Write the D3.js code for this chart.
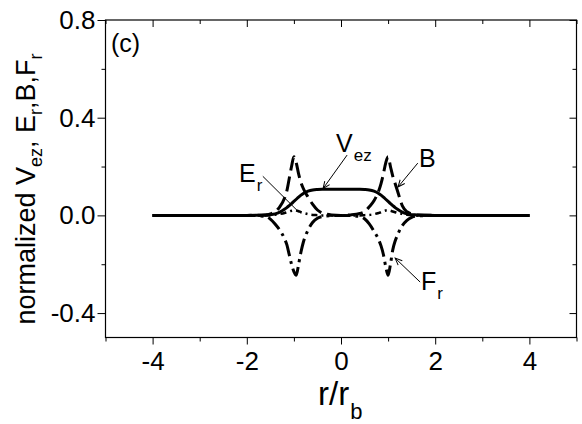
<!DOCTYPE html>
<html>
<head>
<meta charset="utf-8">
<script src="https://cdn.jsdelivr.net/npm/d3@7"></script>
<style>
  body { margin: 0; background: #fff; }
  text { font-family: "Liberation Sans", Arial, sans-serif; fill: #000; }
</style>
</head>
<body>
<script>
// r/r_b sample points shared by all curves
const rValues = [-4, -3, -2, -1.6, -1.5, -1.4, -1.3, -1.2, -1.15, -1.1, -1.05, -1.0, -0.95, -0.9, -0.85, -0.8, -0.7, -0.6, -0.5, -0.4, -0.2,
  0, 0.2, 0.4, 0.5, 0.6, 0.7, 0.8, 0.85, 0.9, 0.95, 1.0, 1.05, 1.1, 1.15, 1.2, 1.3, 1.4, 1.5, 1.6, 2, 3, 4];

const vezValues = [0, 0, 0, 0.002, 0.003, 0.006, 0.013, 0.025, 0.032, 0.04, 0.048, 0.057, 0.066, 0.075, 0.083, 0.09, 0.099, 0.104, 0.106, 0.107, 0.107,
  0.107, 0.107, 0.107, 0.106, 0.104, 0.099, 0.09, 0.083, 0.075, 0.066, 0.057, 0.048, 0.04, 0.032, 0.025, 0.013, 0.006, 0.003, 0.002, 0, 0, 0];

const bValues = [0, 0, 0, 0.002, 0.006, 0.015, 0.035, 0.07, 0.1, 0.15, 0.2, 0.24, 0.215, 0.17, 0.135, 0.11, 0.075, 0.045, 0.022, 0.01, 0.002,
  0, 0.002, 0.008, 0.015, 0.035, 0.06, 0.1, 0.13, 0.17, 0.215, 0.24, 0.2, 0.16, 0.13, 0.1, 0.04, 0.015, 0.006, 0.002, 0, 0, 0];

const frValues = [0, 0, 0, -0.004, -0.015, -0.035, -0.06, -0.095, -0.12, -0.16, -0.2, -0.23, -0.245, -0.2, -0.15, -0.11, -0.06, -0.028, -0.012, -0.005, -0.001,
  0, -0.001, -0.005, -0.014, -0.035, -0.065, -0.1, -0.125, -0.16, -0.21, -0.245, -0.2, -0.14, -0.105, -0.08, -0.042, -0.02, -0.008, -0.003, 0, 0, 0];

const erValues = [0, 0, 0, 0, 0.001, 0.003, 0.006, 0.01, 0.013, 0.016, 0.019, 0.021, 0.02, 0.017, 0.013, 0.01, 0.005, 0.002, 0.001, 0, 0,
  0, 0, 0, 0.001, 0.002, 0.005, 0.01, 0.013, 0.017, 0.02, 0.021, 0.019, 0.016, 0.013, 0.01, 0.006, 0.003, 0.001, 0, 0, 0, 0];

const xMajorTicks = [-4, -2, 0, 2, 4];
const xMinorTicks = [-5, -3, -1, 1, 3, 5];
const yMajorTicks = [0.8, 0.4, 0.0, -0.4];
const yMinorTicks = [0.6, 0.2, -0.2];

const width = 582;
const height = 424;

const x = d3.scaleLinear([-5, 5], [105.5, 576.5]);
const y = d3.scaleLinear([-0.5, 0.8], [337.5, 20]);

const svg = d3.select("body").append("svg")
    .attr("width", width)
    .attr("height", height)
    .attr("viewBox", [0, 0, width, height]);

// arrow head for the curve labels
svg.append("defs").append("marker")
    .attr("id", "arrow")
    .attr("markerUnits", "userSpaceOnUse")
    .attr("viewBox", "-8 -4 9 8")
    .attr("markerWidth", 9)
    .attr("markerHeight", 8)
    .attr("refX", 0)
    .attr("refY", 0)
    .attr("orient", "auto")
  .append("path")
    .attr("d", "M-7,-3L0,0L-7,3")
    .attr("fill", "none")
    .attr("stroke", "#000")
    .attr("stroke-width", 1);

// axes: majors with labels, minors without
function addAxis(axis, transform, values, size, fmt, pad) {
  const g = svg.append("g")
      .attr("transform", transform)
      .call(axis.tickValues(values).tickSizeInner(size).tickSizeOuter(0)
        .tickPadding(pad).tickFormat(fmt));
  g.select(".domain").remove();
  g.selectAll("line").attr("stroke", "#000");
  g.selectAll("text").attr("font-size", 26).attr("font-family", null);
  return g;
}

addAxis(d3.axisBottom(x), `translate(0,${y(-0.5)})`, xMajorTicks, 7, d => String(d), 7);
addAxis(d3.axisBottom(x), `translate(0,${y(-0.5)})`, xMinorTicks, 4, () => "", 0);
addAxis(d3.axisTop(x), `translate(0,${y(0.8)})`, xMajorTicks, -7, () => "", 0);
addAxis(d3.axisTop(x), `translate(0,${y(0.8)})`, xMinorTicks, -4, () => "", 0);
addAxis(d3.axisLeft(y), `translate(${x(-5)},0)`, yMajorTicks, 8, d => d.toFixed(1), 2);
addAxis(d3.axisLeft(y), `translate(${x(-5)},0)`, yMinorTicks, 4, () => "", 0);
addAxis(d3.axisRight(y), `translate(${x(5)},0)`, yMajorTicks, -7, () => "", 0);
addAxis(d3.axisRight(y), `translate(${x(5)},0)`, yMinorTicks, -4, () => "", 0);

svg.append("rect")
    .attr("x", x(-5))
    .attr("y", y(0.8))
    .attr("width", x(5) - x(-5))
    .attr("height", y(-0.5) - y(0.8))
    .attr("fill", "none")
    .attr("stroke", "#000")
    .attr("stroke-width", 1.2);

// curves
const series = [
  { values: frValues, dash: "16,5,3,5", w: 3 },
  { values: bValues, dash: "15,6", w: 3 },
  { values: erValues, dash: "6,4,2,4", w: 2.5 },
  { values: vezValues, dash: null, w: 3 }
];

const line = d3.line()
    .x(d => x(d[0]))
    .y(d => y(d[1]))
    .curve(d3.curveMonotoneX);

svg.append("g")
  .selectAll("path")
  .data(series)
  .join("path")
    .attr("d", s => line(rValues.map((r, i) => [r, s.values[i]])))
    .attr("fill", "none")
    .attr("stroke", "#000")
    .attr("stroke-width", s => s.w)
    .attr("stroke-dasharray", s => s.dash);

// curve labels with pointers (label position, pointer start, pointer tip in data units)
const labels = [
  { main: "V", sub: "ez", tx: 336, ty: 152, from: [0.13, 0.247], to: [-0.38, 0.11], arrow: true },
  { main: "B", sub: "", tx: 419, ty: 167, from: [1.63, 0.214], to: [1.21, 0.116], arrow: true },
  { main: "E", sub: "r", tx: 239, ty: 182, from: [-1.66, 0.16], to: [-0.94, 0.022], arrow: false },
  { main: "F", sub: "r", tx: 421, ty: 290, from: [1.68, -0.273], to: [1.15, -0.175], arrow: true }
];

const lab = svg.append("g").selectAll("g").data(labels).join("g");

lab.append("line")
    .attr("x1", d => x(d.from[0]))
    .attr("y1", d => y(d.from[1]))
    .attr("x2", d => x(d.to[0]))
    .attr("y2", d => y(d.to[1]))
    .attr("stroke", "#000")
    .attr("stroke-width", 1)
    .attr("marker-end", d => d.arrow ? "url(#arrow)" : null);

const labText = lab.append("text")
    .attr("x", d => d.tx)
    .attr("y", d => d.ty)
    .attr("font-size", 25);
labText.append("tspan").text(d => d.main);
labText.append("tspan")
    .attr("dy", 9)
    .attr("dx", 1)
    .attr("font-size", 17)
    .text(d => d.sub);

svg.append("text")
    .attr("x", 111)
    .attr("y", 52)
    .attr("font-size", 25)
    .text("(c)");

// axis titles
const xTitle = svg.append("text")
    .attr("x", 318)
    .attr("y", 405)
    .attr("font-size", 33);
xTitle.append("tspan").text("r/r");
xTitle.append("tspan").attr("dy", 14).attr("dx", 1).attr("font-size", 22).text("b");

const yTitle = svg.append("text")
    .attr("transform", "translate(35,189) rotate(-90)")
    .attr("text-anchor", "middle")
    .attr("font-size", 27);
yTitle.append("tspan").text("normalized V");
yTitle.append("tspan").attr("dy", 7).attr("font-size", 18).text("ez");
yTitle.append("tspan").attr("dy", -7).text(", E");
yTitle.append("tspan").attr("dy", 7).attr("font-size", 18).text("r");
yTitle.append("tspan").attr("dy", -7).text(",B,F");
yTitle.append("tspan").attr("dy", 7).attr("font-size", 18).text("r");
</script>
</body>
</html>
